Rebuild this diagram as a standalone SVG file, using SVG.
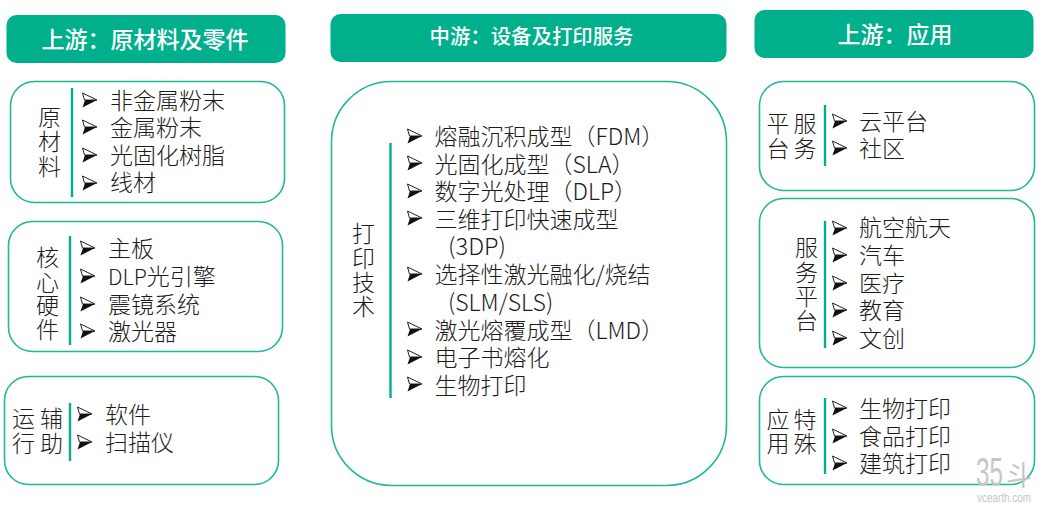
<svg xmlns="http://www.w3.org/2000/svg" width="1047" height="517" viewBox="0 0 1047 517">
<style>
text{font-family:"Noto Sans CJK SC","Noto Sans",sans-serif;font-size:23px;fill:#1c1c1c;font-weight:300}
.h{fill:#00b08c;stroke:none}
.b{fill:#fff;stroke:#1fb898;stroke-width:1.6}
.d{stroke:#00ae8d;stroke-width:2.4;fill:none}
.t{fill:#fff;font-weight:500;text-anchor:middle}
.wm{fill:#c6c6c6;font-family:"Liberation Sans",sans-serif;font-weight:400}
</style>
<defs>
<symbol id="arr" width="16" height="16" viewBox="0 0 16 16" overflow="visible">
<path d="M0.5 1 L15 8 L2.5 8 Z" fill="#fff" stroke="#222" stroke-width="1"/>
<path d="M15 8 L0.5 15.5 L3 8 Z" fill="#111"/>
</symbol>
</defs>
<g id="header-left"><rect class="h" x="6.500" y="15" width="279" height="48" rx="10"/><text class="t" x="145" y="48">上游：原材料及零件</text></g>
<g id="header-mid"><rect class="h" x="330.500" y="14" width="396" height="48" rx="10"/><text class="t" x="531.500" y="44" style="font-size:20.400px">中游：设备及打印服务</text></g>
<g id="header-right"><rect class="h" x="754.500" y="10" width="279" height="48" rx="10"/><text class="t" x="895" y="43">上游：应用</text></g>

<g id="node-raw"><rect class="b" x="10.500" y="81.500" width="274" height="121" rx="24"/>
<text x="38" y="126">原</text><text x="38" y="150">材</text><text x="38" y="175">料</text>
<use href="#arr" x="82" y="92"/><use href="#arr" x="82" y="119"/><use href="#arr" x="82" y="147"/><use href="#arr" x="82" y="175"/>
<text x="110" y="109">非金属粉末</text><text x="110" y="136">金属粉末</text><text x="110" y="164">光固化树脂</text><text x="110" y="191">线材</text></g>

<g id="node-core"><rect class="b" x="8.500" y="221.500" width="274" height="130" rx="24"/>
<text x="36" y="266">核</text><text x="36" y="291">心</text><text x="36" y="314">硬</text><text x="36" y="338">件</text>
<use href="#arr" x="80" y="240"/><use href="#arr" x="80" y="268"/><use href="#arr" x="80" y="296"/><use href="#arr" x="80" y="323"/>
<text x="108" y="257">主板</text><text x="108" y="285"><tspan style="font-size:21.500px">DLP</tspan>光引擎</text><text x="108" y="313">震镜系统</text><text x="108" y="340">激光器</text></g>

<g id="node-aux"><rect class="b" x="4.500" y="376.500" width="274" height="108" rx="24"/>
<text x="12" y="427">运</text><text x="40" y="427">辅</text><text x="12" y="452">行</text><text x="40" y="452">助</text>
<use href="#arr" x="77" y="406"/><use href="#arr" x="77" y="434"/>
<text x="105" y="423">软件</text><text x="105" y="451">扫描仪</text></g>

<g id="node-print"><rect class="b" x="331.500" y="81.500" width="395" height="404" rx="60"/>
<text x="352" y="242">打</text><text x="352" y="267">印</text><text x="352" y="291">技</text><text x="352" y="315">术</text>
<use href="#arr" x="407" y="128"/><use href="#arr" x="407" y="155"/><use href="#arr" x="407" y="183"/><use href="#arr" x="407" y="210"/><use href="#arr" x="407" y="266"/><use href="#arr" x="407" y="321"/><use href="#arr" x="407" y="349"/><use href="#arr" x="407" y="376"/>
<text x="434.500" y="145">熔融沉积成型（FDM）</text>
<text x="434.500" y="173">光固化成型（SLA）</text>
<text x="434.500" y="200">数字光处理（DLP）</text>
<text x="434.500" y="228">三维打印快速成型</text>
<text x="448" y="255" textLength="58" lengthAdjust="spacingAndGlyphs">(3DP)</text>
<text x="434.500" y="283">选择性激光融化/烧结</text>
<text x="448" y="311">(SLM/SLS)</text>
<text x="434.500" y="339">激光熔覆成型（LMD）</text>
<text x="434.500" y="366">电子书熔化</text>
<text x="434.500" y="394">生物打印</text></g>

<g id="node-service"><rect class="b" x="759.500" y="81.500" width="275" height="109" rx="24"/>
<text x="766.500" y="132">平</text><text x="793.500" y="132">服</text><text x="766.500" y="157">台</text><text x="793.500" y="157">务</text>
<use href="#arr" x="832" y="113"/><use href="#arr" x="832" y="140"/>
<text x="859" y="130">云平台</text><text x="859" y="157">社区</text></g>

<g id="node-platform"><rect class="b" x="759.500" y="198.500" width="275" height="169" rx="24"/>
<text x="795" y="256">服</text><text x="795" y="281">务</text><text x="795" y="305">平</text><text x="795" y="329">台</text>
<use href="#arr" x="832" y="220"/><use href="#arr" x="832" y="247"/><use href="#arr" x="832" y="275"/><use href="#arr" x="832" y="302"/><use href="#arr" x="832" y="330"/>
<text x="859" y="236">航空航天</text><text x="859" y="264">汽车</text><text x="859" y="292">医疗</text><text x="859" y="319">教育</text><text x="859" y="347">文创</text></g>

<g id="node-special"><rect class="b" x="759.500" y="376.500" width="275" height="108" rx="24"/>
<text x="766.500" y="428">应</text><text x="793.500" y="428">特</text><text x="766.500" y="452">用</text><text x="793.500" y="452">殊</text>
<use href="#arr" x="832" y="400"/><use href="#arr" x="832" y="428"/><use href="#arr" x="832" y="455"/>
<text x="859" y="417">生物打印</text><text x="859" y="445">食品打印</text><text x="859" y="472">建筑打印</text></g>

<g id="connectors">
<path class="d" d="M72 88V197"/>
<path class="d" d="M70 236V345"/>
<path class="d" d="M70 403V461"/>
<path class="d" d="M390.500 143V398"/>
<path class="d" d="M825 105V166"/>
<path class="d" d="M825 221V348"/>
<path class="d" d="M825 398V474"/>
</g>

<g id="watermark">
<text class="wm" x="976" y="486" style="font-size:40px" textLength="27" lengthAdjust="spacingAndGlyphs">35</text>
<text class="wm" x="1006" y="486" style="font-size:28px;font-family:'Noto Sans CJK SC',sans-serif" textLength="26" lengthAdjust="spacingAndGlyphs">斗</text>
<text class="wm" x="977" y="502" style="font-size:12px" textLength="54" lengthAdjust="spacingAndGlyphs">vcearth.com</text>
</g>
</svg>
